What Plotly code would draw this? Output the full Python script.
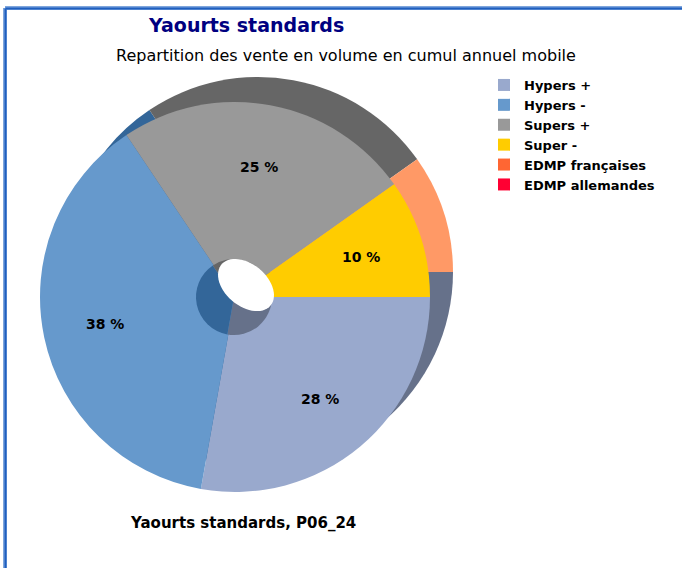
import numpy as np
import plotly.graph_objects as go

W, H = 682, 568

labels = ["Hypers +", "Hypers -", "Supers +", "Super -", "EDMP françaises", "EDMP allemandes"]
values = [27.8, 37.8, 24.6, 9.8, 0.0, 0.0]
front_colors = ["#99A9CD", "#6699CC", "#999999", "#FFCC00", "#FF6633", "#FF0033"]
shadow_colors = ["#66718A", "#336699", "#666666", "#FF9966", "#CC5533", "#CC0022"]

title = "Yaourts standards"
subtitle = "Repartition des vente en volume en cumul annuel mobile"
footer = "Yaourts standards, P06_24"


def dom(cx, cy, r):
    return dict(x=[(cx - r) / W, (cx + r) / W], y=[1 - (cy + r) / H, 1 - (cy - r) / H])


MAIN = (235, 297, 195)
SHADOW = (258, 272, 195)
CORE = (234, 297, 38)

fig = go.Figure()

# shadow (3D side) pie
fig.add_trace(go.Pie(labels=labels, values=values, sort=False, direction="clockwise", rotation=90,
                     marker=dict(colors=shadow_colors, line=dict(width=0)),
                     textinfo="none", hoverinfo="skip", showlegend=False,
                     domain=dom(*SHADOW)))
# main pie
fig.add_trace(go.Pie(labels=labels, values=values, sort=False, direction="clockwise", rotation=90,
                     marker=dict(colors=front_colors, line=dict(width=0)),
                     textinfo="none", showlegend=True,
                     domain=dom(*MAIN)))
# core pie
fig.add_trace(go.Pie(labels=labels, values=values, sort=False, direction="clockwise", rotation=90,
                     marker=dict(colors=shadow_colors, line=dict(width=0)),
                     textinfo="none", hoverinfo="skip", showlegend=False,
                     domain=dom(*CORE)))

# percentage labels placed on slice bisectors
annotations = []
total = sum(values)
start = 0.0
cx, cy, r = MAIN
for v in values:
    ang = (start + v / 2) / total * 360.0
    start += v
    if v <= 0:
        continue
    x = cx + 0.68 * r * np.sin(np.radians(ang + 90))
    y = cy - 0.68 * r * np.cos(np.radians(ang + 90))
    annotations.append(dict(x=x / W, y=1 - y / H, xref="paper", yref="paper", showarrow=False,
                            xanchor="center", yanchor="middle",
                            text=f"<b>{round(v)} %</b>",
                            font=dict(family="DejaVu Sans", size=14, color="#000000")))

annotations += [
    dict(x=246 / W, y=1 - 25 / H, xref="paper", yref="paper", showarrow=False,
         xanchor="center", yanchor="middle",
         text=f"<b>{title}</b>", font=dict(family="DejaVu Sans", size=19, color="#000080")),
    dict(x=346 / W, y=1 - 55 / H, xref="paper", yref="paper", showarrow=False,
         xanchor="center", yanchor="middle",
         text=subtitle, font=dict(family="DejaVu Sans", size=16, color="#000000")),
    dict(x=128 / W, y=1 - 523 / H, xref="paper", yref="paper", showarrow=False,
         xanchor="left", yanchor="middle",
         text=f"<b>{footer}</b>", font=dict(family="DejaVu Sans", size=15, color="#000000")),
]

# white hole ellipse (decorative)
t = np.linspace(0, 2 * np.pi, 60)
ecx, ecy, ea, eb, rot = 246, 285, 32, 21, np.radians(40)
ex = ecx + ea * np.cos(t) * np.cos(rot) - eb * np.sin(t) * np.sin(rot)
ey = ecy + ea * np.cos(t) * np.sin(rot) + eb * np.sin(t) * np.cos(rot)
path = "M " + " L ".join(f"{px / W:.5f},{1 - py / H:.5f}" for px, py in zip(ex, ey)) + " Z"

shapes = [
    dict(type="path", path=path, xref="paper", yref="paper", fillcolor="white",
         line=dict(width=0), layer="above"),
    dict(type="line", x0=5 / W, x1=1, y0=1 - 8 / H, y1=1 - 8 / H, xref="paper", yref="paper",
         line=dict(color="#7FA6DC", width=4), layer="above"),
    dict(type="line", x0=5 / W, x1=5 / W, y0=1 - 8 / H, y1=0, xref="paper", yref="paper",
         line=dict(color="#7FA6DC", width=4), layer="above"),
    dict(type="line", x0=5.5 / W, x1=1, y0=1 - 8.5 / H, y1=1 - 8.5 / H, xref="paper", yref="paper",
         line=dict(color="#1F5FBF", width=2), layer="above"),
    dict(type="line", x0=5.5 / W, x1=5.5 / W, y0=1 - 8.5 / H, y1=0, xref="paper", yref="paper",
         line=dict(color="#1F5FBF", width=2), layer="above"),
]

fig.update_layout(
    width=W, height=H, margin=dict(l=0, r=0, t=0, b=0),
    paper_bgcolor="white", plot_bgcolor="white",
    annotations=annotations, shapes=shapes,
    legend=dict(x=484 / W, y=1 - 70 / H, xanchor="left", yanchor="top",
                font=dict(family="DejaVu Sans", size=13, color="#000000", weight="bold"),
                tracegroupgap=0, itemclick=False),
    showlegend=True,
)

fig.write_html("out.html", config={"displayModeBar": False},
               post_script="document.body.style.margin='0px';")
